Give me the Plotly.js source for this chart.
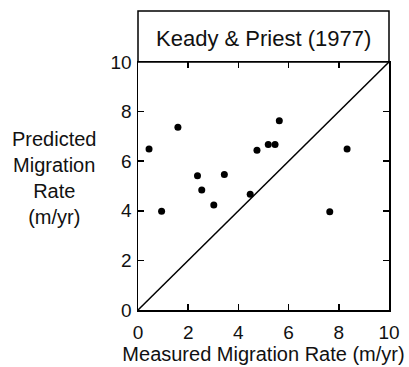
<!DOCTYPE html>
<html>
<head>
<meta charset="utf-8">
<script src="https://cdn.plot.ly/plotly-3.0.1.min.js"></script>
<style>
html,body{margin:0;padding:0;background:#fff;}
#chart{width:409px;height:367px;}
</style>
</head>
<body>
<div id="chart"></div>
<script>
// Measured vs predicted migration rate (m/yr), Keady & Priest (1977)
var measured  = [0.44, 0.94, 1.59, 2.37, 2.54, 3.02, 3.44, 4.47, 4.74, 5.19, 5.46, 5.63, 7.64, 8.33];
var predicted = [6.49, 3.98, 7.37, 5.41, 4.84, 4.23, 5.46, 4.67, 6.44, 6.67, 6.67, 7.63, 3.96, 6.49];
// 1:1 reference line
var lineX = [0, 10];
var lineY = [0, 10];
var tickVals = [0, 2, 4, 6, 8, 10];
var tickText = ['0', '2', '4', '6', '8', '10'];
var titleText = 'Keady &amp; Priest (1977)';
var xTitle = 'Measured Migration Rate (m/yr)';
var yTitle = 'Predicted<br>Migration<br>Rate<br>(m/yr)';

var font = 'Liberation Sans, Arial, Helvetica, sans-serif';

var traces = [
  {x: lineX, y: lineY, mode: 'lines', line: {color: '#000', width: 1.5}, hoverinfo: 'skip'},
  {x: measured, y: predicted, mode: 'markers', marker: {color: '#000', size: 7}}
];

var axisCommon = {
  range: [0, 10],
  tickvals: tickVals,
  ticktext: tickText,
  ticks: 'inside',
  ticklen: 6,
  tickwidth: 1.5,
  tickcolor: '#000',
  showline: true,
  linecolor: '#000',
  linewidth: 1.5,
  mirror: 'ticks',
  showgrid: false,
  zeroline: false,
  fixedrange: true,
  tickfont: {family: font, size: 19, color: '#111'}
};

var layout = {
  width: 409, height: 367,
  margin: {l: 138, r: 20, t: 62, b: 57},
  paper_bgcolor: '#fff',
  plot_bgcolor: '#fff',
  showlegend: false,
  font: {family: font, color: '#111'},
  xaxis: Object.assign({}, axisCommon, {
    ticklabelstandoff: 5,
    title: {text: xTitle, font: {family: font, size: 20, color: '#111'}, standoff: 2}
  }),
  yaxis: Object.assign({}, axisCommon, {ticklabelstandoff: 1, title: {text: ''}}),
  shapes: [
    {type: 'rect', xref: 'paper', yref: 'paper', x0: 0, x1: 1, y0: 1, y1: 1.2056,
     line: {color: '#000', width: 1.5}, fillcolor: 'rgba(0,0,0,0)'}
  ],
  annotations: [
    {text: titleText, xref: 'paper', yref: 'paper', x: 0.5, y: 1.095, showarrow: false,
     xanchor: 'center', yanchor: 'middle', font: {family: font, size: 22, color: '#111'}},
    {text: yTitle, xref: 'paper', yref: 'paper', x: -0.333, y: 0.534, showarrow: false,
     xanchor: 'center', yanchor: 'middle', align: 'center',
     font: {family: font, size: 20, color: '#111'}}
  ]
};

Plotly.newPlot('chart', traces, layout, {displayModeBar: false, staticPlot: true});
</script>
</body>
</html>
